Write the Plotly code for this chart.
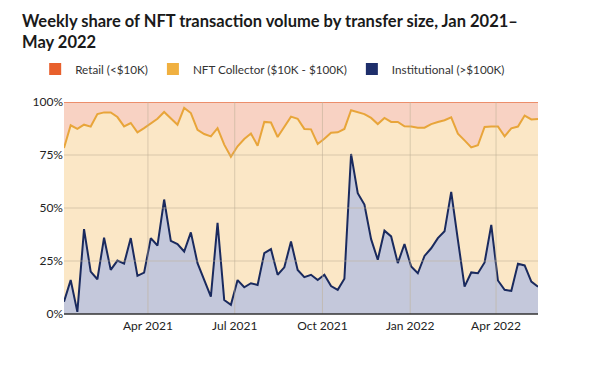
import plotly.graph_objects as go
import pandas as pd

weeks = pd.date_range("2021-01-03", periods=72, freq="7D")

institutional = [5.8, 16, 1, 40, 20, 16.4, 36, 20.8, 25.2, 23.8, 35.8, 18, 19.5, 35.8, 32.3, 54,
                 34.5, 33, 29.5, 38.5, 24, 16, 8.2, 43, 6.6, 4.3, 16, 12.6, 14.5, 13.7, 28.7, 30.6,
                 18.5, 22, 34.2, 20.8, 17.4, 18.5, 16, 18.5, 13.2, 11.4, 16.6, 75.5, 57, 51.6, 35.3,
                 25.6, 39.3, 36.6, 24, 33, 22.4, 19.2, 27.4, 31, 35.8, 39, 57.6, 35, 12.9, 19.6, 19.2,
                 24.3, 42, 15.8, 11.4, 10.9, 23.7, 22.9, 15.3, 12.9]

collector = [72.5, 73.0, 86.3, 49.3, 68.4, 77.9, 59.1, 74.3, 67.7, 64.7, 54.3, 67.7, 68.2, 54.3,
             59.8, 41.3, 58.0, 56.3, 67.7, 56.3, 62.9, 68.9, 75.6, 44.7, 73.3, 69.9, 63.1, 69.9,
             70.6, 65.7, 61.9, 59.7, 65.0, 66.2, 58.9, 71.3, 69.9, 68.6, 64.2, 64.2, 72.3, 74.3,
             70.7, 20.6, 38.3, 42.7, 57.2, 64.0, 53.2, 54.0, 66.6, 55.5, 66.0, 68.7, 60.5, 58.6,
             54.8, 52.4, 35.2, 50.1, 69.0, 59.0, 60.4, 63.9, 46.5, 72.7, 72.4, 76.7, 64.7, 70.7,
             76.5, 79.1]

retail = [21.7, 11.0, 12.7, 10.7, 11.6, 5.7, 4.9, 4.9, 7.1, 11.5, 9.9, 14.3, 12.3, 9.9, 7.9, 4.7,
          7.5, 10.7, 2.8, 5.2, 13.1, 15.1, 16.2, 12.3, 20.1, 25.8, 20.9, 17.5, 14.9, 20.6, 9.4, 9.7,
          16.5, 11.8, 6.9, 7.9, 12.7, 12.9, 19.8, 17.3, 14.5, 14.3, 12.7, 3.9, 4.7, 5.7, 7.5, 10.4,
          7.5, 9.4, 9.4, 11.5, 11.6, 12.1, 12.1, 10.4, 9.4, 8.6, 7.2, 14.9, 18.1, 21.4, 20.4, 11.8,
          11.5, 11.5, 16.2, 12.4, 11.6, 6.4, 8.2, 8.0]

series_names = ["Retail (<$10K)", "NFT Collector ($10K - $100K)", "Institutional (>$100K)"]
legend_colors = ["#e8602c", "#f0b040", "#1e2f6b"]

y_ticks = [0, 25, 50, 75, 100]
y_tick_labels = ["0%", "25%", "50%", "75%", "100%"]
x_ticks = ["2021-04-01", "2021-07-01", "2021-10-01", "2022-01-01", "2022-04-01"]
x_tick_labels = ["Apr 2021", "Jul 2021", "Oct 2021", "Jan 2022", "Apr 2022"]

title_text = "<b>Weekly share of NFT transaction volume by transfer size, Jan 2021–<br>May 2022</b>"

fig = go.Figure()
fig.add_trace(go.Scatter(x=weeks, y=institutional, stackgroup="s", mode="lines",
                         line=dict(color="#1a2a5e", width=2), fillcolor="#c4c8db",
                         showlegend=False, name=series_names[2]))
fig.add_trace(go.Scatter(x=weeks, y=collector, stackgroup="s", mode="lines",
                         line=dict(color="#e8a53a", width=2), fillcolor="#fbe7c6",
                         showlegend=False, name=series_names[1]))
fig.add_trace(go.Scatter(x=weeks, y=retail, stackgroup="s", mode="lines",
                         line=dict(color="#e8774e", width=1.5), fillcolor="#f8d2c3",
                         showlegend=False, name=series_names[0]))

for name, col in zip(series_names, legend_colors):
    fig.add_trace(go.Scatter(x=[None], y=[None], mode="markers", name=name,
                             marker=dict(symbol="square", size=12, color=col)))

shapes = []
for v in y_ticks[1:-1]:
    shapes.append(dict(type="line", xref="paper", x0=0, x1=1, yref="y", y0=v, y1=v,
                       line=dict(color="rgba(190,175,150,0.55)", width=1), layer="above"))
for d in x_ticks:
    shapes.append(dict(type="line", xref="x", x0=d, x1=d, yref="paper", y0=0, y1=1,
                       line=dict(color="rgba(190,175,150,0.55)", width=1), layer="above"))
shapes.append(dict(type="line", xref="paper", x0=0, x1=1, yref="paper", y0=0, y1=0,
                   line=dict(color="#333333", width=1.5), layer="above"))

fig.update_layout(
    width=600, height=367,
    margin=dict(l=56, r=70, t=94, b=61, autoexpand=False),
    paper_bgcolor="white", plot_bgcolor="white",
    font=dict(family="Lato, Noto Sans, sans-serif", color="#222222", size=12),
    annotations=[dict(text=title_text, xref="paper", yref="paper", x=-0.0928, y=1.4387,
                      xanchor="left", yanchor="top", align="left", showarrow=False,
                      font=dict(size=16.5, color="#1a1a1a"))],
    legend=dict(orientation="h", xref="paper", x=-0.0608, xanchor="left",
                yref="paper", y=1.156, yanchor="middle",
                font=dict(size=11.7, color="#333"), traceorder="normal",
                itemwidth=30),
    shapes=shapes,
    xaxis=dict(range=[weeks[0], weeks[-1]], tickvals=x_ticks, ticktext=x_tick_labels,
               showgrid=False, zeroline=False, showline=False, ticks="", automargin=False,
               ticklabelstandoff=3, tickfont=dict(size=12, color="#222")),
    yaxis=dict(range=[0, 100], tickvals=y_ticks, ticktext=y_tick_labels,
               showgrid=False, zeroline=False, showline=False, ticks="", automargin=False,
               tickfont=dict(size=12, color="#222")),
)

fig.write_html("out.html")
